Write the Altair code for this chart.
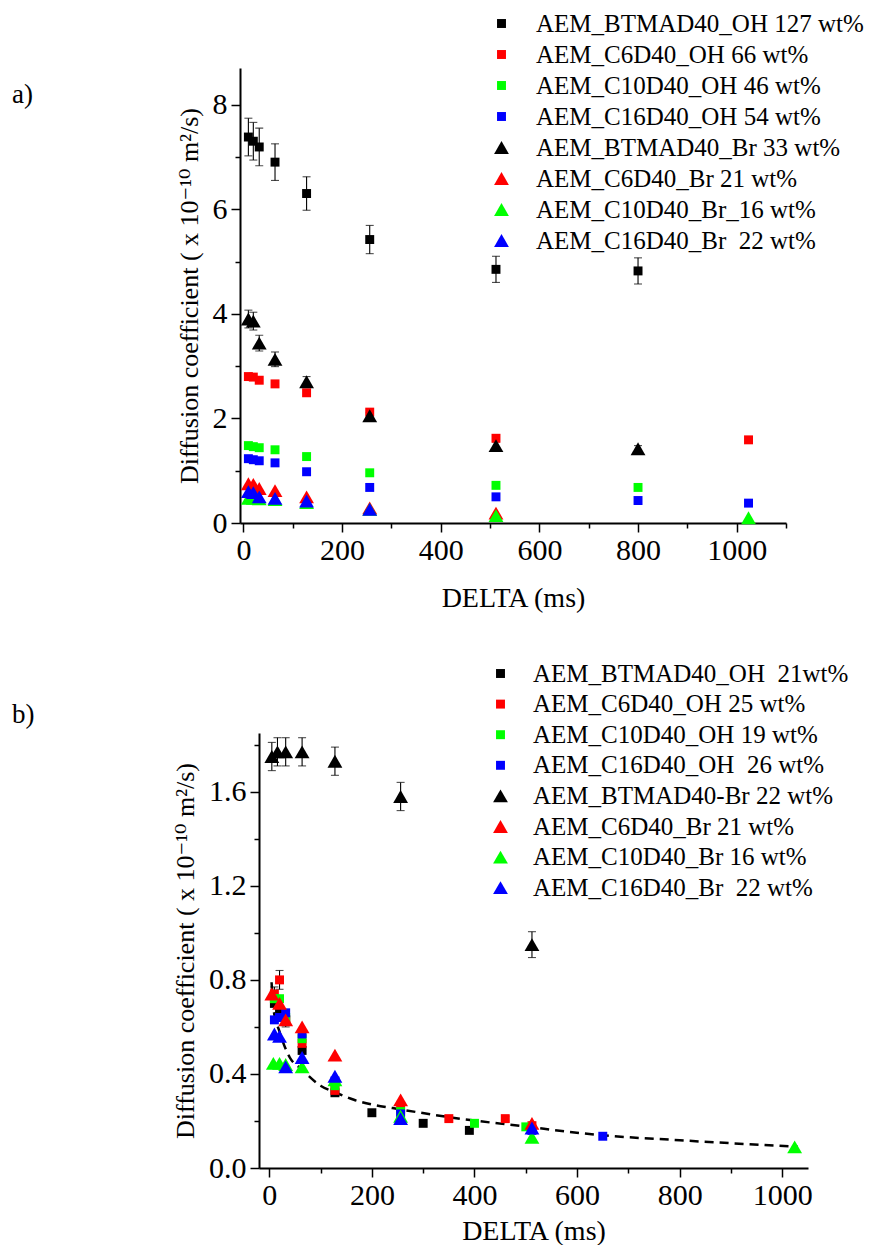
import altair as alt
import pandas as pd

FONT = "Times New Roman, Liberation Serif, DejaVu Serif, serif"
NB = "\u00a0 "  # visible double space

# ---------------- Panel a data ----------------
A_SERIES = ["AEM_BTMAD40_OH 127 wt%", "AEM_C6D40_OH 66 wt%", "AEM_C10D40_OH 46 wt%",
            "AEM_C16D40_OH 54 wt%", "AEM_BTMAD40_Br 33 wt%", "AEM_C6D40_Br 21 wt%",
            "AEM_C10D40_Br_16 wt%", "AEM_C16D40_Br" + NB + "22 wt%"]
a_btmad_oh_x = [10, 20, 32, 64, 128, 256, 512, 800]
a_btmad_oh_y = [7.38, 7.30, 7.19, 6.90, 6.30, 5.42, 4.85, 4.82]
a_btmad_oh_err = [0.36, 0.36, 0.36, 0.35, 0.32, 0.27, 0.25, 0.25]
a_c6_oh_x = [10, 20, 32, 64, 128, 256, 512, 1024]
a_c6_oh_y = [2.80, 2.79, 2.73, 2.66, 2.49, 2.12, 1.62, 1.59]
a_c10_oh_x = [10, 20, 32, 64, 128, 256, 512, 800]
a_c10_oh_y = [1.48, 1.46, 1.44, 1.40, 1.27, 0.96, 0.72, 0.68]
a_c16_oh_x = [10, 20, 32, 64, 128, 256, 512, 800, 1024]
a_c16_oh_y = [1.23, 1.21, 1.19, 1.15, 0.98, 0.68, 0.50, 0.43, 0.38]
a_btmad_br_x = [10, 20, 32, 64, 128, 256, 512, 800]
a_btmad_br_y = [3.90, 3.86, 3.44, 3.13, 2.70, 2.05, 1.48, 1.42]
a_btmad_br_err = [0.17, 0.17, 0.15, 0.14, 0.10, 0.06, 0.07, 0.06]
a_c6_br_x = [10, 20, 32, 64, 128, 256, 512]
a_c6_br_y = [0.75, 0.74, 0.66, 0.62, 0.50, 0.29, 0.19]
a_c10_br_x = [10, 20, 32, 64, 128, 256, 512, 1024]
a_c10_br_y = [0.47, 0.47, 0.46, 0.45, 0.39, 0.26, 0.14, 0.10]
a_c16_br_x = [10, 20, 32, 64, 128, 256]
a_c16_br_y = [0.60, 0.58, 0.50, 0.47, 0.42, 0.26]

# ---------------- Panel b data ----------------
B_SERIES = ["AEM_BTMAD40_OH" + NB + "21wt%", "AEM_C6D40_OH 25 wt%", "AEM_C10D40_OH 19 wt%",
            "AEM_C16D40_OH" + NB + "26 wt%", "AEM_BTMAD40-Br 22 wt%", "AEM_C6D40_Br 21 wt%",
            "AEM_C10D40_Br 16 wt%", "AEM_C16D40_Br" + NB + "22 wt%"]
b_btmad_oh_x = [10, 20, 32, 64, 128, 200, 300, 390]
b_btmad_oh_y = [0.70, 0.67, 0.63, 0.50, 0.32, 0.235, 0.19, 0.16]
b_c6_oh_x = [10, 20, 32, 64, 128, 256, 350, 460, 512]
b_c6_oh_y = [0.74, 0.80, 0.63, 0.53, 0.33, 0.25, 0.21, 0.21, 0.18]
b_c6_oh_err = [0.03, 0.04, 0.03, 0.03, 0.02, 0.02, 0.01, 0.01, 0.01]
b_c10_oh_x = [10, 20, 32, 64, 128, 256, 400, 500]
b_c10_oh_y = [0.72, 0.72, 0.64, 0.55, 0.35, 0.24, 0.19, 0.175]
b_c16_oh_x = [10, 20, 32, 64, 128, 256, 512, 650]
b_c16_oh_y = [0.63, 0.64, 0.66, 0.57, 0.37, 0.23, 0.16, 0.135]
b_btmad_br_x = [5, 16, 32, 64, 128, 256, 512]
b_btmad_br_y = [1.75, 1.77, 1.77, 1.77, 1.73, 1.58, 0.95]
b_btmad_br_err = [0.06, 0.06, 0.06, 0.06, 0.06, 0.06, 0.055]
b_c6_br_x = [5, 20, 32, 64, 128, 256, 512]
b_c6_br_y = [0.74, 0.70, 0.63, 0.60, 0.48, 0.29, 0.19]
b_c10_br_x = [8, 20, 32, 64, 128, 256, 512, 1024]
b_c10_br_y = [0.445, 0.445, 0.44, 0.43, 0.375, 0.22, 0.13, 0.09]
b_c16_br_x = [10, 20, 32, 64, 128, 256, 512]
b_c16_br_y = [0.57, 0.56, 0.43, 0.47, 0.39, 0.21, 0.17]
# dashed fit curve
b_fit_x = [4.5, 8, 20, 40, 63, 100, 130, 165, 200, 240, 345, 500, 645, 800, 1030]
b_fit_y = [0.79, 0.68, 0.58, 0.47, 0.42, 0.35, 0.32, 0.29, 0.27, 0.255, 0.218, 0.176, 0.14, 0.118, 0.09]

COLORS = ["#000000", "#ff0000", "#00ff00", "#0000ff"] * 2
SHAPES = ["square"] * 4 + ["triangle-up"] * 4
SIZES = [80] * 4 + [220] * 4
YTITLE = "Diffusion coefficient ( x 10\u207b\u00b9\u2070 m\u00b2/s)"


def make_points(series, xs_list, ys_list):
    rows = []
    for s, xs, ys in zip(series, xs_list, ys_list):
        for x, y in zip(xs, ys):
            rows.append({"series": s, "x": x, "y": y})
    return pd.DataFrame(rows)


def make_err(xs, ys, es):
    return pd.DataFrame({"x": xs, "lo": [y - e for y, e in zip(ys, es)],
                         "hi": [y + e for y, e in zip(ys, es)]})


def panel(pts_df, err_dfs, fit_df, series, xdom, xrange, ydom, width, height, yoff,
          xmaj, xmin, ymaj, ymin, yfmt, xtpad, leg_x, leg_y, lab_off, row_pad,
          tag, tag_x, tag_y):
    xs = alt.Scale(domain=xdom, range=xrange, nice=False, zero=False)
    ys = alt.Scale(domain=ydom, nice=False, zero=False)
    common_axis = dict(domainWidth=2, domainColor="black", tickColor="black",
                       tickWidth=1.5, labelFont=FONT, labelFontSize=30,
                       labelColor="black", titleFont=FONT,
                       titleFontWeight="normal", titleColor="black", grid=False,
                       labelFlush=False, labelOverlap=False)
    xaxis = alt.Axis(values=xmaj, title="DELTA (ms)", orient="bottom", tickSize=9,
                     labelPadding=3, titlePadding=xtpad, titleFontSize=28, format="d",
                     **common_axis)
    yaxis = alt.Axis(values=ymaj, title=YTITLE, orient="left", tickSize=9, offset=yoff,
                     labelPadding=4, titlePadding=10, titleFontSize=26, format=yfmt,
                     **common_axis)
    xminor = alt.Axis(values=xmin, title=None, orient="bottom", tickSize=5, labels=False,
                      domain=False, tickColor="black", tickWidth=1.5, grid=False)
    yminor = alt.Axis(values=ymin, title=None, orient="left", tickSize=5, labels=False,
                      domain=False, tickColor="black", tickWidth=1.5, grid=False,
                      offset=yoff)
    leg = alt.Legend(title=None, orient="none", legendX=leg_x, legendY=leg_y,
                     labelFont=FONT, labelFontSize=25, labelColor="black",
                     labelOffset=lab_off, rowPadding=row_pad, padding=0, labelLimit=0,
                     symbolStrokeWidth=0)
    layers = []
    layers.append(alt.Chart(pts_df).mark_point(opacity=0).encode(
        x=alt.X("x:Q", scale=xs, axis=xminor),
        y=alt.Y("y:Q", scale=ys, axis=yminor)))
    for e in err_dfs:
        layers.append(alt.Chart(e).mark_rule(color="black", strokeWidth=1.1).encode(
            x=alt.X("x:Q", scale=xs, axis=None),
            y=alt.Y("lo:Q", scale=ys, axis=None), y2="hi:Q"))
        for col in ["lo", "hi"]:
            layers.append(alt.Chart(e).mark_tick(color="black", orient="horizontal",
                                                 size=8, thickness=1.1).encode(
                x=alt.X("x:Q", scale=xs, axis=None),
                y=alt.Y(col + ":Q", scale=ys, axis=None)))
    if fit_df is not None:
        layers.append(alt.Chart(fit_df).mark_line(color="black", strokeWidth=2.5,
                                                  strokeDash=[9, 6],
                                                  interpolate="monotone").encode(
            x=alt.X("x:Q", scale=xs, axis=None),
            y=alt.Y("y:Q", scale=ys, axis=None)))
    layers.append(alt.Chart(pts_df).mark_point(filled=True, opacity=1, strokeWidth=0).encode(
        x=alt.X("x:Q", scale=xs, axis=xaxis),
        y=alt.Y("y:Q", scale=ys, axis=yaxis),
        color=alt.Color("series:N", scale=alt.Scale(domain=series, range=COLORS), legend=leg),
        shape=alt.Shape("series:N", scale=alt.Scale(domain=series, range=SHAPES), legend=leg),
        size=alt.Size("series:N", scale=alt.Scale(type="ordinal", domain=series, range=SIZES),
                      legend=leg)))
    layers.append(alt.Chart(pd.DataFrame({"t": [tag]})).mark_text(
        font=FONT, fontSize=27, align="left", baseline="middle", color="black").encode(
        x=alt.value(tag_x), y=alt.value(tag_y), text="t:N"))
    return alt.layer(*layers).resolve_axis(x="independent", y="independent").properties(
        width=width, height=height)


pts_a = make_points(A_SERIES,
                    [a_btmad_oh_x, a_c6_oh_x, a_c10_oh_x, a_c16_oh_x,
                     a_btmad_br_x, a_c6_br_x, a_c10_br_x, a_c16_br_x],
                    [a_btmad_oh_y, a_c6_oh_y, a_c10_oh_y, a_c16_oh_y,
                     a_btmad_br_y, a_c6_br_y, a_c10_br_y, a_c16_br_y])
err_a = [make_err(a_btmad_oh_x, a_btmad_oh_y, a_btmad_oh_err),
         make_err(a_btmad_br_x, a_btmad_br_y, a_btmad_br_err)]

pts_b = make_points(B_SERIES,
                    [b_btmad_oh_x, b_c6_oh_x, b_c10_oh_x, b_c16_oh_x,
                     b_btmad_br_x, b_c6_br_x, b_c10_br_x, b_c16_br_x],
                    [b_btmad_oh_y, b_c6_oh_y, b_c10_oh_y, b_c16_oh_y,
                     b_btmad_br_y, b_c6_br_y, b_c10_br_y, b_c16_br_y])
err_b = [make_err(b_c6_oh_x, b_c6_oh_y, b_c6_oh_err),
         make_err(b_btmad_br_x, b_btmad_br_y, b_btmad_br_err)]
fit_b = pd.DataFrame({"x": b_fit_x, "y": b_fit_y})

panel_a = panel(pts_a, err_a, None, A_SERIES, [-7, 1100], [-19, 527], [0, 8.7], 527, 455, 19,
                [0, 200, 400, 600, 800, 1000], [100, 300, 500, 700, 900, 1100],
                [0, 2, 4, 6, 8], [1, 3, 5, 7], "d", 19,
                230, -57, 22, 5.0, "a)", -247, 27)
panel_b = panel(pts_b, err_b, fit_b, B_SERIES, [-20, 1050], [0, 549], [0, 1.85], 549, 435, 0,
                [0, 200, 400, 600, 800, 1000], [100, 300, 500, 700, 900],
                [0.0, 0.4, 0.8, 1.2, 1.6], [0.2, 0.6, 1.0, 1.4, 1.8], ".1f", 7,
                229, -72, 20, 4.6, "b)", -247, -18)

chart = alt.concat(panel_a, panel_b, columns=1, spacing=49).resolve_scale(
    color="independent", shape="independent", size="independent",
    x="independent", y="independent").properties(
    padding={"left": 12, "top": 11, "right": 0, "bottom": 0}
).configure(background="white").configure_view(stroke="transparent", strokeWidth=0)

chart.save("out.html", embed_options={"renderer": "svg", "actions": False})
